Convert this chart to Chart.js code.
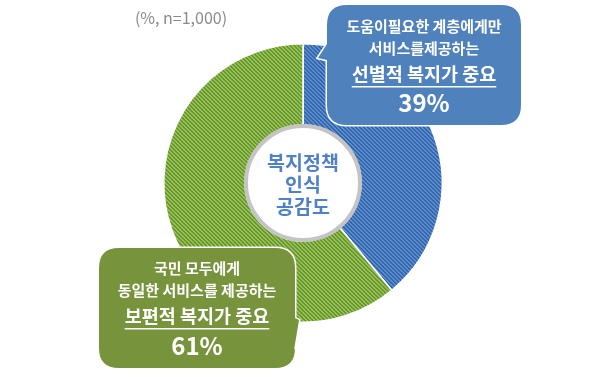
<!DOCTYPE html>
<html>
<head>
<meta charset="utf-8">
<script src="https://cdn.jsdelivr.net/npm/chart.js@4/dist/chart.umd.min.js"></script>
<style>
  html, body { margin: 0; padding: 0; background: #fff; }
  #wrap { position: relative; width: 605px; height: 377px; }
</style>
</head>
<body>
<div id="wrap"><canvas id="chart" width="605" height="377"></canvas></div>
<script>
const labels = ['선별적 복지가 중요', '보편적 복지가 중요'];
const values = [39, 61];
const centerLines = ['복지정책', '인식', '공감도'];
const note = '(%, n=1,000)';
const blueLines = ['도움이필요한 계층에게만', '서비스를제공하는', '선별적 복지가 중요', '39%'];
const greenLines = ['국민 모두에게', '동일한 서비스를 제공하는', '보편적 복지가 중요', '61%'];

const FONT = '"Noto Sans CJK KR", "Noto Sans", sans-serif';

// ─── hatch patterns ───
function hatch(light, dark) {
  const c = document.createElement('canvas');
  c.width = 4; c.height = 4;
  const g = c.getContext('2d');
  g.fillStyle = light; g.fillRect(0, 0, 4, 4);
  g.fillStyle = dark;
  for (let y = 0; y < 4; y++) for (let x = 0; x < 4; x++) {
    const d = ((x - y) % 4 + 4) % 4;
    if (d === 0 || d === 1) g.fillRect(x, y, 1, 1);
  }
  return g.createPattern(c, 'repeat');
}
const bluePat = hatch('#5b8fd4', '#3564a6');
const greenPat = hatch('#94c153', '#69942f');

function box(ctx, x0, y0, x1, y1, r, pointer, color) {
  ctx.save();
  ctx.beginPath();
  ctx.moveTo(x0 + r, y0);
  ctx.lineTo(x1 - r, y0);
  ctx.quadraticCurveTo(x1, y0, x1, y0 + r);
  if (pointer.side === 'right') pointer.pts.forEach(p => ctx.lineTo(p[0], p[1]));
  ctx.lineTo(x1, y1 - r);
  ctx.quadraticCurveTo(x1, y1, x1 - r, y1);
  ctx.lineTo(x0 + r, y1);
  ctx.quadraticCurveTo(x0, y1, x0, y1 - r);
  if (pointer.side === 'left') pointer.pts.forEach(p => ctx.lineTo(p[0], p[1]));
  ctx.lineTo(x0, y0 + r);
  ctx.quadraticCurveTo(x0, y0, x0 + r, y0);
  ctx.closePath();
  ctx.lineWidth = 3; ctx.strokeStyle = '#fff'; ctx.stroke();
  ctx.fillStyle = color; ctx.fill();
  ctx.restore();
}

function boxText(ctx, lines, cx, ys) {
  ctx.save();
  ctx.fillStyle = '#fff';
  ctx.textAlign = 'center'; ctx.textBaseline = 'middle';
  ctx.font = 'bold 15px ' + FONT;
  ctx.fillText(lines[0], cx, ys[0]);
  ctx.fillText(lines[1], cx, ys[1]);
  ctx.font = 'bold 18.5px ' + FONT;
  ctx.fillText(lines[2], cx, ys[2]);
  const w = ctx.measureText(lines[2]).width;
  ctx.fillRect(cx - w / 2, ys[2] + 12, w, 1.5);
  ctx.font = 'bold 24px ' + FONT;
  ctx.fillText(lines[3], cx, ys[3]);
  ctx.restore();
}

const overlay = {
  id: 'overlay',
  afterDraw(chart) {
    const ctx = chart.ctx;
    const arc = chart.getDatasetMeta(0).data[0];
    const cx = arc.x, cy = arc.y;

    // centre circle
    ctx.save();
    ctx.beginPath();
    ctx.arc(cx, cy, 57, 0, Math.PI * 2);
    ctx.fillStyle = '#fff'; ctx.fill();
    ctx.lineWidth = 4; ctx.strokeStyle = '#c4c4c4'; ctx.stroke();
    ctx.fillStyle = '#4f81c7';
    ctx.font = 'bold 19.5px ' + FONT;
    ctx.textAlign = 'center'; ctx.textBaseline = 'middle';
    centerLines.forEach((t, i) => ctx.fillText(t, cx, cy - 20 + i * 22));
    ctx.restore();

    // note
    ctx.save();
    ctx.fillStyle = '#8a8a8a';
    ctx.font = '16px ' + FONT;
    ctx.textAlign = 'center'; ctx.textBaseline = 'middle';
    ctx.fillText(note, 181, 18);
    ctx.restore();

    // callouts
    box(ctx, 327, 5, 521, 125, 20,
      { side: 'left', pts: [[327, 60], [318, 58], [327, 44]] }, '#4f81bd');
    boxText(ctx, blueLines, 424, [26, 48, 74, 103]);

    box(ctx, 99, 248, 295, 368, 20,
      { side: 'right', pts: [[295, 318], [299, 320], [294, 350]] }, '#77933c');
    boxText(ctx, greenLines, 197, [268, 290, 316, 346]);
  }
};

new Chart(document.getElementById('chart'), {
  type: 'doughnut',
  data: {
    labels: labels,
    datasets: [{
      data: values,
      backgroundColor: [bluePat, greenPat],
      borderColor: '#fff',
      borderWidth: 1.5
    }]
  },
  options: {
    responsive: false, animation: false, cutout: 58,
    layout: { padding: { left: 163, right: 162, top: 43, bottom: 54 } },
    plugins: { legend: { display: false }, tooltip: { enabled: false } }
  },
  plugins: [overlay]
});
</script>
</body>
</html>
